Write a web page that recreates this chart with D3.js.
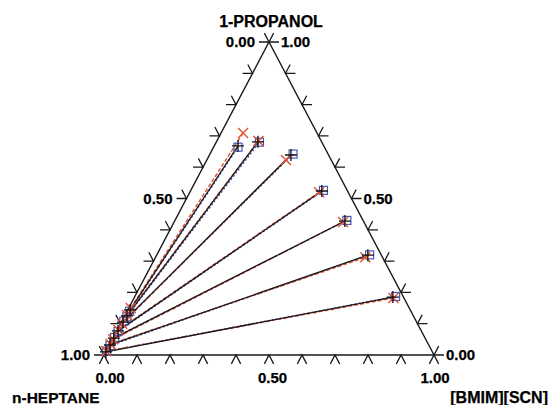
<!DOCTYPE html>
<html>
<head>
<meta charset="utf-8">
<script src="https://cdn.jsdelivr.net/npm/d3@7"></script>
<style>
  body { margin: 0; background: #fff; }
  svg text { font-family: "Liberation Sans", Arial, sans-serif; font-weight: bold; fill: #000; stroke: #000; stroke-width: 0.25; }
</style>
</head>
<body>
<svg id="chart" width="550" height="405"></svg>
<script>
// Datos: fracciones molares (1-propanol, [BMIM][SCN]); n-heptano = resto
// fase rica en heptano (extremo izquierdo)
const hepPhaseProp = [0.144, 0.125, 0.105, 0.077, 0.054, 0.032, 0.010];
const hepPhaseIL   = [0.007, 0.007, 0.005, 0.004, 0.003, 0.002, 0.001];
// fase rica en liquido ionico (extremo derecho)
const ilPhaseProp  = [0.668, 0.681, 0.639, 0.524, 0.428, 0.319, 0.185];
const ilPhaseIL    = [0.072, 0.126, 0.247, 0.398, 0.516, 0.640, 0.783];

// modelo NRTL (rojo)
const nrtlHepProp = [0.150, 0.128, 0.100, 0.080, 0.050, 0.035, 0.012];
const nrtlHepIL   = [0.006, 0.006, 0.005, 0.004, 0.003, 0.002, 0.001];
const nrtlILProp  = [0.709, 0.684, 0.623, 0.520, 0.425, 0.312, 0.182];
const nrtlILIL    = [0.067, 0.126, 0.240, 0.392, 0.512, 0.636, 0.786];

// modelo UNIQUAC (azul)
const uniqHepProp = [0.140, 0.122, 0.108, 0.075, 0.056, 0.030, 0.012];
const uniqHepIL   = [0.008, 0.008, 0.006, 0.005, 0.004, 0.003, 0.002];
const uniqILProp  = [0.664, 0.680, 0.642, 0.526, 0.430, 0.320, 0.187];
const uniqILIL    = [0.074, 0.131, 0.252, 0.402, 0.521, 0.645, 0.790];

const ticks = d3.range(0, 1.0001, 0.1);
const labelTicks = [0, 0.5, 1];

// Geometria del triangulo
const L = [104, 355], R = [434, 355], T = [269, 42];
const xIL = d3.scaleLinear().domain([0, 1]).range([L[0], R[0]]);
const yProp = d3.scaleLinear().domain([0, 1]).range([L[1], T[1]]);
const proj = (p, il) => [xIL(il) + (T[0] - L[0]) * p, yProp(p)];

const svg = d3.select('#chart');
const line = d3.line();

// Bordes
svg.append('path')
  .attr('d', line([L, R, T]) + 'Z')
  .attr('fill', 'none').attr('stroke', '#1a1a1a').attr('stroke-width', 1.4);

// Marcas: dos brazos paralelos a los otros lados, hacia fuera
const tl = 10;
const unit = (a, b) => { const dx = b[0] - a[0], dy = b[1] - a[1], n = Math.hypot(dx, dy); return [dx / n, dy / n]; };
const dLT = unit(L, T), dTR = unit(T, R), dLR = unit(L, R);
const tickG = svg.append('g').attr('stroke', '#1a1a1a').attr('stroke-width', 1.3).attr('fill', 'none');
function chevron(p, a, b) {
  tickG.append('path').attr('d', line([[p[0] + a[0] * tl, p[1] + a[1] * tl], p, [p[0] + b[0] * tl, p[1] + b[1] * tl]]));
}
ticks.forEach(t => {
  // base (IL)
  chevron(proj(0, t), [-dLT[0], -dLT[1]], dTR);
  // izquierdo (heptano), de T a L
  chevron(proj(1 - t, 0), [-dLR[0], -dLR[1]], [-dTR[0], -dTR[1]]);
  // derecho (propanol), de R a T
  chevron(proj(t, 1 - t), dLR, dLT);
});

// Etiquetas de los ejes
const fmt = d3.format('.2f');
labelTicks.forEach(t => {
  const b = proj(0, t);
  svg.append('text').attr('x', b[0] + 6 - 5 * t).attr('y', 383).attr('text-anchor', 'middle')
    .attr('font-size', 15).text(fmt(t));
  const l = proj(1 - t, 0);
  svg.append('text').attr('x', l[0] - 14).attr('y', l[1] + 5).attr('text-anchor', 'end')
    .attr('font-size', 15).text(fmt(t));
  const r = proj(t, 1 - t);
  svg.append('text').attr('x', r[0] + 12).attr('y', r[1] + 5).attr('text-anchor', 'start')
    .attr('font-size', 15).text(fmt(t));
});

svg.append('text').attr('x', T[0] + 2).attr('y', 27).attr('text-anchor', 'middle')
  .attr('font-size', 16).text('1-PROPANOL');
svg.append('text').attr('x', 12).attr('y', 403).attr('font-size', 15.5).text('n-HEPTANE');
svg.append('text').attr('x', 548).attr('y', 403).attr('text-anchor', 'end')
  .attr('font-size', 16).text('[BMIM][SCN]');

// Lineas de reparto
const ties = (hp, hi, ip, ii) => hp.map((d, i) => [proj(hp[i], hi[i]), proj(ip[i], ii[i])]);
const expTies = ties(hepPhaseProp, hepPhaseIL, ilPhaseProp, ilPhaseIL);
const nrtlTies = ties(nrtlHepProp, nrtlHepIL, nrtlILProp, nrtlILIL);
const uniqTies = ties(uniqHepProp, uniqHepIL, uniqILProp, uniqILIL);

svg.append('g').selectAll('path').data(uniqTies).join('path')
  .attr('d', d => line(d)).attr('fill', 'none')
  .attr('stroke', '#3a44a8').attr('stroke-width', 1.2).attr('stroke-dasharray', '2,2');
svg.append('g').selectAll('path').data(nrtlTies).join('path')
  .attr('d', d => line(d)).attr('fill', 'none')
  .attr('stroke', '#e2502e').attr('stroke-width', 1.4).attr('stroke-dasharray', '4,2');
svg.append('g').selectAll('path').data(expTies).join('path')
  .attr('d', d => line(d)).attr('fill', 'none')
  .attr('stroke', '#1a1a1a').attr('stroke-width', 1.3);

// Simbolos
const uniqPts = uniqTies.flat();
svg.append('g').selectAll('rect').data(uniqPts).join('rect')
  .attr('x', d => d[0] - 4).attr('y', d => d[1] - 4).attr('width', 8).attr('height', 8)
  .attr('fill', 'none').attr('stroke', '#4a58b8').attr('stroke-width', 1.2);
const nrtlPts = nrtlTies.flat();
svg.append('g').selectAll('path').data(nrtlPts).join('path')
  .attr('d', d => `M${d[0] - 5},${d[1] - 5}L${d[0] + 5},${d[1] + 5}M${d[0] - 5},${d[1] + 5}L${d[0] + 5},${d[1] - 5}`)
  .attr('stroke', '#e2502e').attr('stroke-width', 1.4);
const expPts = expTies.flat();
svg.append('g').selectAll('path').data(expPts).join('path')
  .attr('d', d => `M${d[0] - 6},${d[1]}L${d[0] + 6},${d[1]}M${d[0]},${d[1] - 6}L${d[0]},${d[1] + 6}`)
  .attr('stroke', '#111').attr('stroke-width', 1.3);
</script>
</body>
</html>
